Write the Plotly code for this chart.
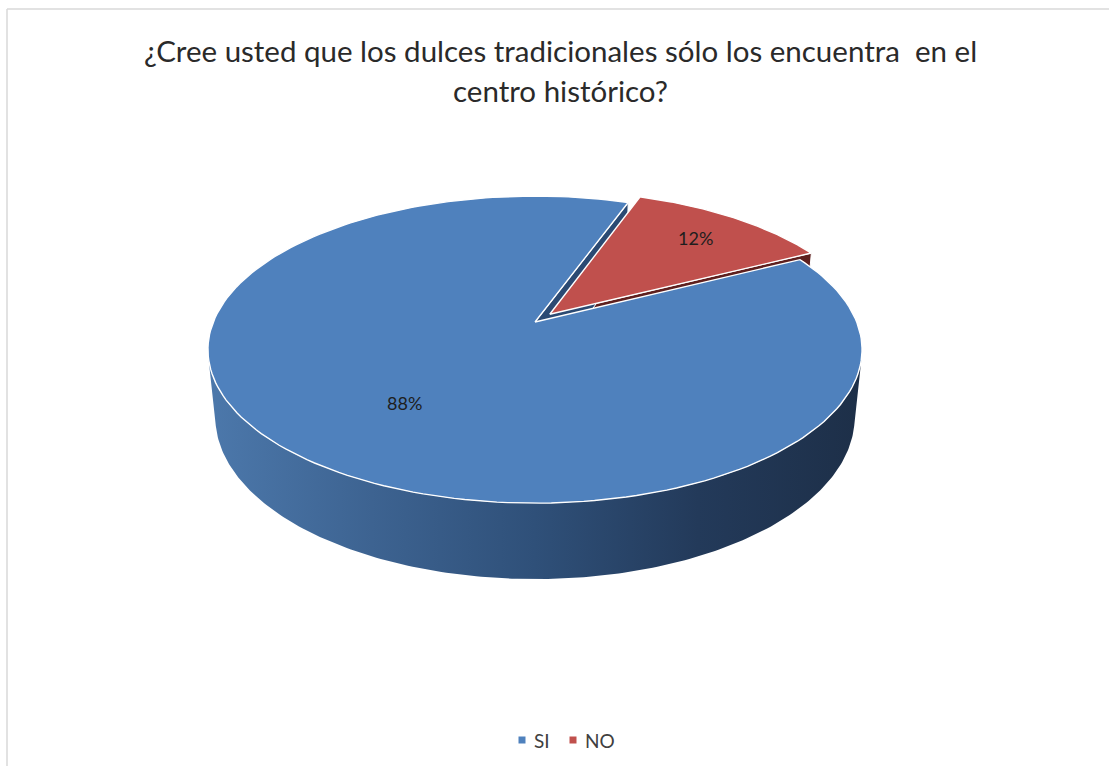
import numpy as np
import plotly.graph_objects as go

# --- data ---
categories = ["SI", "NO"]
values = [88, 12]
slice_colors = ["#4F81BD", "#C0504D"]
side_colors = ["#2B4A73", "#5E1F1E"]
title_lines = ["¿Cree usted que los dulces tradicionales sólo los encuentra  en el",
               "centro histórico?"]

# --- 3D pie geometry (perspective projection into pixel space) ---
W, Hpx = 1109, 766
D = 4.93                 # camera distance (pie radius = 1)
PHI = np.radians(27.5)   # camera elevation
K = 1586                 # focal scale, px
CX, CY = 535, 322        # projected pie centre, px
THICK = 0.2385           # pie thickness
START = 63.0             # first slice angle, degrees clockwise from the back
EXPLODE = [0.0, 0.07]    # slice explosion
LABEL_R = [0.62, 0.77]   # label distance from slice apex
LABEL_DA = [-5.0, 0.0]   # label angle shift from slice middle, degrees

FONT = "Lato, Open Sans, sans-serif"
cphi, sphi = np.cos(PHI), np.sin(PHI)


def proj(X, Y, Z):
    X, Y, Z = np.asarray(X, float), np.asarray(Y, float), np.asarray(Z, float)
    depth = D + Y * cphi - Z * sphi
    return CX + K * X / depth, CY - K * (Y * sphi + Z * cphi) / depth


def ring(a0, a1, z, off, n=200):
    t = np.radians(np.linspace(a0, a1, n))
    return proj(np.sin(t) + off[0], np.cos(t) + off[1], np.full_like(t, z))


total = float(sum(values))
spans = [v / total * 360.0 for v in values]
bounds = []
a = START
for sp in spans:
    bounds.append((a, a + sp))
    a += sp

offsets = []
for (a0, a1), e in zip(bounds, EXPLODE):
    mid = np.radians((a0 + a1) / 2)
    offsets.append((e * np.sin(mid), e * np.cos(mid)))

fig = go.Figure()


def poly(xs, ys, fill, line_color="white", width=1.2):
    fig.add_trace(go.Scatter(x=list(xs), y=list(ys), mode="lines", fill="toself",
                             fillcolor=fill, line=dict(color=line_color, width=width),
                             hoverinfo="skip", showlegend=False))


def radial_face(angle, off, color):
    t = np.radians(angle)
    X = [off[0], off[0] + np.sin(t), off[0] + np.sin(t), off[0], off[0]]
    Y = [off[1], off[1] + np.cos(t), off[1] + np.cos(t), off[1], off[1]]
    Z = [0, 0, -THICK, -THICK, 0]
    px, py = proj(X, Y, Z)
    poly(px, py, color, width=1.0)


# cut faces visible through the gap (drawn first, partly covered later)
radial_face(bounds[1][1], offsets[1], side_colors[1])   # NO end face
radial_face(bounds[0][1], offsets[0], side_colors[0])   # SI end face

# outer wall of the large slice, facing the viewer
sil = np.degrees(np.arccos(-1.0 / (D * cphi)))
w0, w1 = sil, 360 - sil
tx, ty = ring(w0, w1, 0.0, offsets[0])
bx, by = ring(w1, w0, -THICK, offsets[0])
fig.add_trace(go.Scatter(
    x=np.concatenate([tx, bx, tx[:1]]), y=np.concatenate([ty, by, ty[:1]]),
    mode="lines", fill="toself", line=dict(width=0, color="rgba(0,0,0,0)"),
    fillgradient=dict(type="horizontal",
                      colorscale=[[0, "#4C78AB"], [0.25, "#3D6391"], [0.5, "#2F5079"],
                                  [0.75, "#233A5A"], [1, "#1D2F48"]]),
    hoverinfo="skip", showlegend=False))

# top faces
for i in [1, 0]:
    a0, a1 = bounds[i]
    off = offsets[i]
    rx, ry = ring(a0, a1, 0.0, off)
    ax_, ay_ = proj(off[0], off[1], 0.0)
    xs = np.concatenate([[ax_], rx, [ax_]])
    ys = np.concatenate([[ay_], ry, [ay_]])
    poly(xs, ys, slice_colors[i], width=1.4)

# data labels
for i in range(len(values)):
    a0, a1 = bounds[i]
    ang = np.radians((a0 + a1) / 2 + LABEL_DA[i])
    off = offsets[i]
    lx, ly = proj(off[0] + LABEL_R[i] * np.sin(ang), off[1] + LABEL_R[i] * np.cos(ang), 0.0)
    fig.add_annotation(x=float(lx), y=float(ly), text=f"{values[i]:.0f}%", showarrow=False,
                       font=dict(family=FONT, size=18, color="#1E1E1E"))

# legend: small square swatch followed by the category name
LEG_X = [522, 573]
LEG_Y = 740
for name, col, lx in zip(categories, slice_colors, LEG_X):
    fig.add_trace(go.Scatter(x=[lx], y=[LEG_Y], mode="markers",
                             marker=dict(symbol="square", size=7, color=col),
                             hoverinfo="skip", showlegend=False, cliponaxis=False))
    fig.add_annotation(x=lx + 10, y=LEG_Y, text=name, showarrow=False, xanchor="left",
                       font=dict(family=FONT, size=19, color="#404040"))

# title
for k, line in enumerate(title_lines):
    fig.add_annotation(x=560, y=50 + 40 * k, text=line, showarrow=False,
                       font=dict(family=FONT, size=29.5, color="#2A2A2A"))

# chart area outline (top and left edges)
fig.add_shape(type="line", x0=7, x1=W + 5, y0=9, y1=9, line=dict(color="#D9D9D9", width=1.5))
fig.add_shape(type="line", x0=7, x1=7, y0=9, y1=Hpx + 5, line=dict(color="#D9D9D9", width=1.5))

fig.update_layout(
    width=W, height=Hpx, margin=dict(l=0, r=0, t=0, b=0),
    paper_bgcolor="white", plot_bgcolor="white",
    xaxis=dict(range=[0, W], visible=False, fixedrange=True),
    yaxis=dict(range=[Hpx, 0], visible=False, fixedrange=True),
    showlegend=False,
)

fig.write_html("out.html")
